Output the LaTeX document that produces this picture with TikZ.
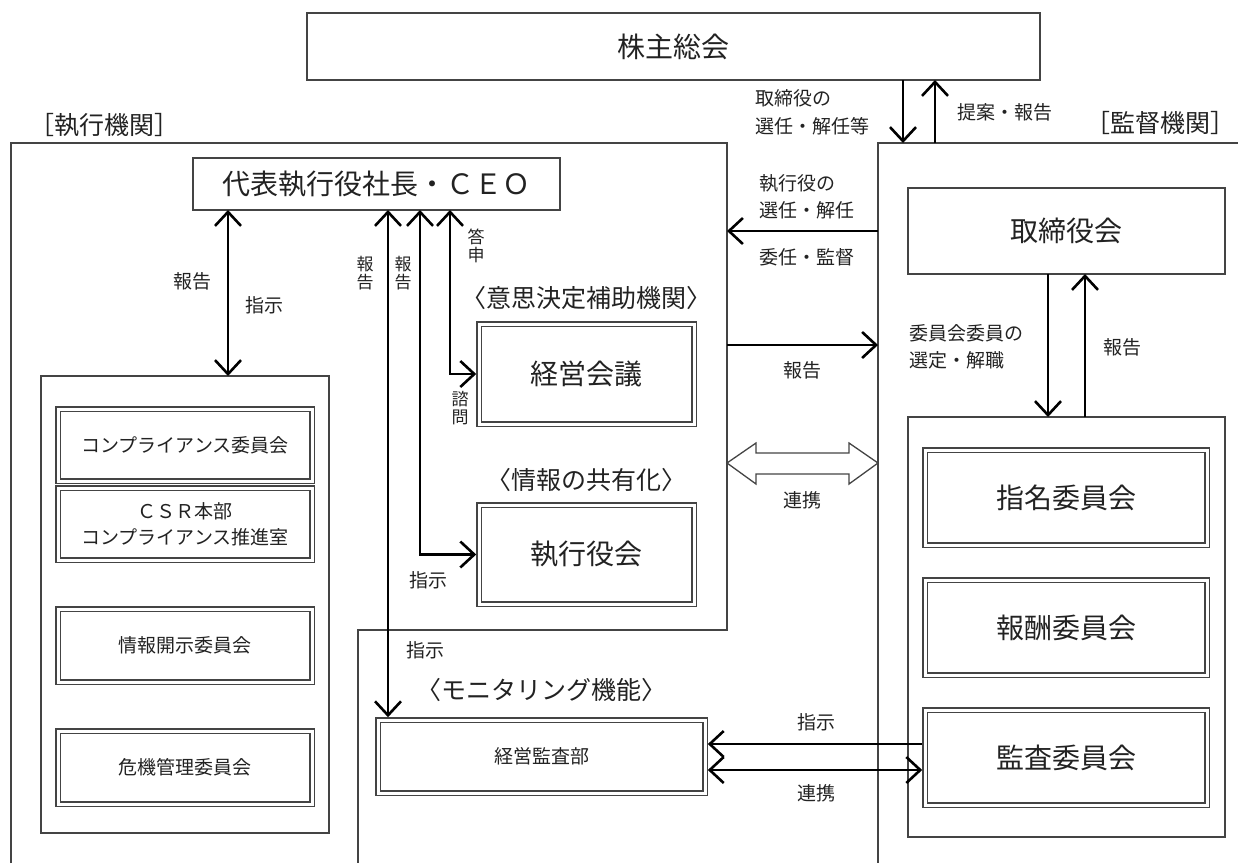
\documentclass[tikz,border=0pt]{standalone}
\usepackage{fontspec}
\setmainfont{Noto Sans CJK JP}
\usetikzlibrary{arrows.meta,calc}
\definecolor{ln}{HTML}{444444}
\definecolor{txt}{HTML}{222222}
\begin{document}
\begin{tikzpicture}[x=1pt,y=-1pt,
  every node/.style={text=txt, inner sep=0pt, outer sep=0pt},
  sbox/.style={draw=ln, line width=1.3pt, rectangle},
  dbox/.style={draw=ln, line width=1.3pt, double=white, double distance=3pt, outer sep=2.8pt, rectangle},
  big/.style={font=\fontsize{28}{34}\selectfont},
  mid/.style={font=\fontsize{19}{26}\selectfont, align=center},
  lbl/.style={font=\fontsize{19}{23}\selectfont},
  vlbl/.style={font=\fontsize{17}{17.5}\selectfont, align=center},
  head/.style={font=\fontsize{25}{30}\selectfont},
  region/.style={draw=ln, line width=1.2pt},
  tip/.tip={Straight Barb[length=14pt,width=26pt]},
  arr/.style={line width=2.6pt, -tip},
  arrb/.style={line width=2.6pt, tip-tip},
  hollow/.style={draw=ln, line width=1.3pt, fill=white, line join=miter}
]
\useasboundingbox (0,0) rectangle (1238,863);

% region outlines
\coordinate (exTL) at (11,143);
\coordinate (exTR) at (727,143);
\coordinate (exStep) at (727,630);
\coordinate (exStepL) at (358,630);
\coordinate (exBL) at (11,863);
\coordinate (exBR) at (358,863);
\coordinate (suTL) at (878,143);
\coordinate (suTR) at (1238,143);
\coordinate (suBL) at (878,863);
\draw[region] (exBL) -- (exTL) -- (exTR) -- (exStep) -- (exStepL) -- (exBR);
\draw[region] (suTR) -- (suTL) -- (suBL);

% column / row helpers
\coordinate (c903) at (903,0);
\coordinate (c935) at (935,0);
\coordinate (c228) at (228,0);
\coordinate (c388) at (388,0);
\coordinate (c420) at (420,0);
\coordinate (c450) at (450,0);
\coordinate (c1048) at (1048,0);
\coordinate (c1085) at (1085,0);
\coordinate (r345) at (0,345);
\coordinate (r744) at (0,744);
\coordinate (r770) at (0,770);

% boxes
\node[sbox, big, minimum width=733pt, minimum height=67pt] (top) at (673.5,46.5) {株主総会};
\node[sbox, big, minimum width=367pt, minimum height=52pt] (ceo) at (376.5,184) {代表執行役社長・ＣＥＯ};
\node[dbox, big, minimum width=215pt, minimum height=100pt] (keiei) at (586.5,374) {経営会議};
\node[dbox, big, minimum width=215pt, minimum height=99pt] (shikko) at (586.5,554.5) {執行役会};
\node[sbox, minimum width=288pt, minimum height=457pt] (leftsub) at (185,604.5) {};
\node[dbox, mid, minimum width=254pt, minimum height=72pt] (comp) at (185,445) {コンプライアンス委員会};
\node[dbox, mid, minimum width=254pt, minimum height=72pt] (csr) at (185,524) {ＣＳＲ本部\\コンプライアンス推進室};
\node[dbox, mid, minimum width=254pt, minimum height=73pt] (joho) at (185,645.5) {情報開示委員会};
\node[dbox, mid, minimum width=254pt, minimum height=73pt] (kiki) at (185,767.5) {危機管理委員会};
\node[dbox, mid, minimum width=327pt, minimum height=73pt] (kansabu) at (541.5,756.5) {経営監査部};
\node[sbox, big, minimum width=317pt, minimum height=86pt] (tori) at (1066.5,231) {取締役会};
\node[sbox, minimum width=317pt, minimum height=420pt] (rightsub) at (1066.5,627) {};
\node[dbox, big, minimum width=282pt, minimum height=95pt] (shimei) at (1066,497.5) {指名委員会};
\node[dbox, big, minimum width=282pt, minimum height=95pt] (hoshu) at (1066,627.5) {報酬委員会};
\node[dbox, big, minimum width=282pt, minimum height=95pt] (kansa) at (1066,757.5) {監査委員会};

% headings
\node[head] (hex) at (104,125) {［執行機関］};
\node[head] (hsu) at (1160,123) {［監督機関］};
\node[head] (hisi) at (586,298) {〈意思決定補助機関〉};
\node[head] (hjoho) at (586,480) {〈情報の共有化〉};
\node[head] (hmon) at (541,690) {〈モニタリング機能〉};

% connectors
\draw[arr] (top.south -| c903) -- (suTL -| c903);
\draw[arr] (suTL -| c935) -- (top.south -| c935);
\draw[arrb] (ceo.south -| c228) -- (leftsub.north -| c228);
\draw[arrb] (ceo.south -| c388) -- (kansabu.north -| c388);
\draw[arrb] (ceo.south -| c420) |- (shikko.west);
\draw[arrb] (ceo.south -| c450) |- (keiei.west);
\draw[arr] (tori.west -| suTL) -- (tori.west -| exTR);
\draw[arr] (exTR |- r345) -- (suTL |- r345);
\draw[arr] (tori.south -| c1048) -- (rightsub.north -| c1048);
\draw[arr] (rightsub.north -| c1085) -- (tori.south -| c1085);
\draw[arr] (kansa.west |- r744) -- (kansabu.east |- r744);
\draw[arrb] (kansabu.east |- r770) -- (kansa.west |- r770);

% hollow double arrow (連携)
\draw[hollow] (727,463) -- (756,443) -- (756,453) -- (849,453) -- (849,443) -- (878,463)
  -- (849,484) -- (849,474) -- (756,474) -- (756,484) -- cycle;

% labels
\node[lbl, anchor=west] (l1) at (755,98) {取締役の};
\node[lbl, anchor=west] (l2) at (755,126) {選任・解任等};
\node[lbl] (l3) at (1005,112) {提案・報告};
\node[lbl, anchor=west] (l4) at (759,183) {執行役の};
\node[lbl, anchor=west] (l5) at (759,210) {選任・解任};
\node[lbl, anchor=west] (l6) at (759,257) {委任・監督};
\node[lbl] (l7) at (802,370) {報告};
\node[lbl] (l8) at (802,500) {連携};
\node[lbl, anchor=west] (l9) at (909,333) {委員会委員の};
\node[lbl, anchor=west] (l10) at (909,360) {選定・解職};
\node[lbl] (l11) at (1122,347) {報告};
\node[lbl] (l12) at (192,281) {報告};
\node[lbl] (l13) at (264,305) {指示};
\node[vlbl] (v1) at (365,273) {報\\告};
\node[vlbl] (v2) at (403,273) {報\\告};
\node[vlbl] (v3) at (476,246) {答\\申};
\node[vlbl] (v4) at (460,408) {諮\\問};
\node[lbl] (l14) at (428,580) {指示};
\node[lbl] (l15) at (425,650) {指示};
\node[lbl] (l16) at (816,722) {指示};
\node[lbl] (l17) at (816,793) {連携};
\end{tikzpicture}
\end{document}
